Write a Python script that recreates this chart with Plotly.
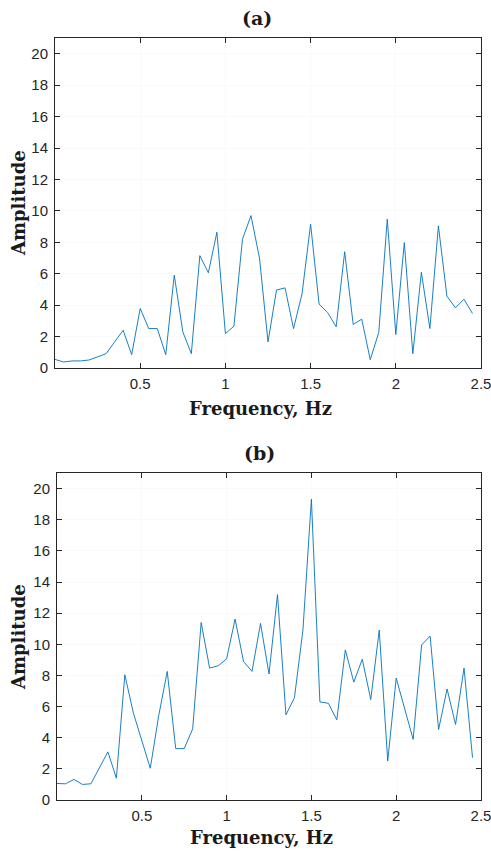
import plotly.graph_objects as go

freq = [round(0.05 * i, 2) for i in range(50)]

amp_a = [0.55, 0.38, 0.45, 0.45, 0.51, 0.70, 0.91, 1.66, 2.40, 0.85,
         3.79, 2.51, 2.51, 0.85, 5.91, 2.30, 0.91, 7.15, 6.06, 8.64,
         2.19, 2.66, 8.19, 9.70, 7.00, 1.66, 4.96, 5.10, 2.51, 4.74,
         9.15, 4.06, 3.53, 2.62, 7.40, 2.77, 3.11, 0.53, 2.26, 9.47,
         2.13, 7.98, 0.91, 6.09, 2.51, 9.04, 4.57, 3.83, 4.38, 3.47]

amp_b = [1.06, 1.04, 1.32, 1.00, 1.04, 2.09, 3.09, 1.40, 8.04, 5.60,
         3.89, 2.04, 5.43, 8.26, 3.30, 3.30, 4.57, 11.40, 8.47, 8.62,
         9.06, 11.62, 8.89, 8.26, 11.34, 8.09, 13.19, 5.47, 6.57, 10.90,
         19.32, 6.30, 6.21, 5.15, 9.64, 7.57, 9.04, 6.45, 10.91, 2.51,
         7.83, 5.81, 3.89, 9.96, 10.53, 4.53, 7.13, 4.85, 8.47, 2.72]

x_ticks = [0.5, 1, 1.5, 2, 2.5]
x_tick_text = ["0.5", "1", "1.5", "2", "2.5"]
y_ticks = list(range(0, 21, 2))
panel_titles = ["(a)", "(b)"]
x_title = "Frequency, Hz"
y_title = "Amplitude"

W, H = 491, 851
line_color = "#0072BD"
tick_font = dict(family="Liberation Sans, Arial", size=15, color="#262626")
serif = "DejaVu Serif, Liberation Serif, serif"

fig = go.Figure()
fig.add_trace(go.Scatter(x=freq, y=amp_a, mode="lines", line=dict(color=line_color, width=0.9),
                         xaxis="x", yaxis="y", showlegend=False))
fig.add_trace(go.Scatter(x=freq, y=amp_b, mode="lines", line=dict(color=line_color, width=0.9),
                         xaxis="x2", yaxis="y2", showlegend=False))

def fy(px):
    return 1 - px / H

def fx(px):
    return px / W

common_x = dict(range=[0, 2.5], tickvals=x_ticks, ticktext=x_tick_text, ticks="inside",
                ticklen=5, tickcolor="#262626", showline=True, linecolor="#262626", linewidth=1,
                mirror="ticks", showgrid=True, gridcolor="rgba(0,0,0,0.02)", zeroline=False,
                tickfont=tick_font, fixedrange=True, automargin=False,
                ticklabeloverflow="allow", ticklabelstandoff=2)
common_y = dict(range=[0, 21], tickvals=y_ticks, ticks="inside", ticklen=5, tickcolor="#262626",
                showline=True, linecolor="#262626", linewidth=1, mirror="ticks",
                showgrid=True, gridcolor="rgba(0,0,0,0.02)", zeroline=False, tickfont=tick_font,
                fixedrange=True, automargin=False, ticklabeloverflow="allow", ticklabelstandoff=3)

fig.update_layout(
    width=W, height=H,
    margin=dict(l=0, r=0, t=0, b=0, autoexpand=False),
    paper_bgcolor="white", plot_bgcolor="white",
    xaxis=dict(domain=[fx(55), fx(481)], anchor="y", **common_x),
    yaxis=dict(domain=[fy(368), fy(38)], anchor="x", **common_y),
    xaxis2=dict(domain=[fx(57), fx(481)], anchor="y2", **common_x),
    yaxis2=dict(domain=[fy(800), fy(473)], anchor="x2", **common_y),
)

annots = []
specs = [
    (panel_titles[0], 257, 260, 18, 408, 203),
    (panel_titles[1], 259, 261, 453, 837, 637),
]
for title, tx, cx, ty, xly, yly in specs:
    annots.append(dict(text="<b>" + title + "</b>", x=fx(tx), y=fy(ty), xref="paper", yref="paper",
                       showarrow=False, xanchor="center", yanchor="middle",
                       font=dict(family=serif, size=19, color="#1a1a1a")))
    annots.append(dict(text="<b>" + x_title + "</b>", x=fx(cx), y=fy(xly), xref="paper", yref="paper",
                       showarrow=False, xanchor="center", yanchor="middle",
                       font=dict(family=serif, size=18, color="#1a1a1a")))
    annots.append(dict(text="<b>" + y_title + "</b>", x=fx(18), y=fy(yly), xref="paper", yref="paper",
                       showarrow=False, xanchor="center", yanchor="middle", textangle=-90,
                       font=dict(family=serif, size=18, color="#1a1a1a")))
fig.update_layout(annotations=annots)

fig.write_html("out.html", config={"displayModeBar": False},
               post_script="document.body.style.margin='0';document.body.style.overflow='hidden';")
